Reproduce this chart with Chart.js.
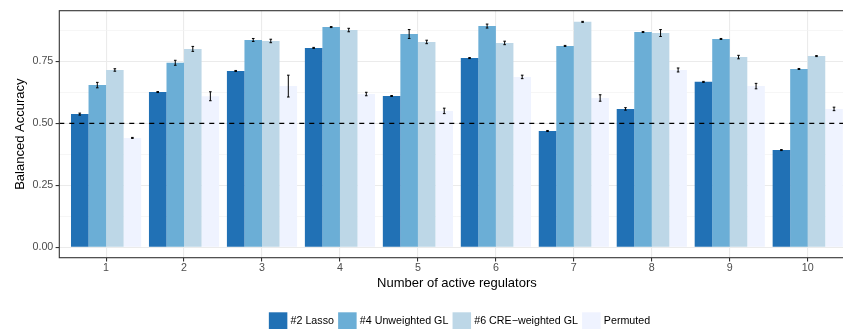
<!DOCTYPE html>
<html><head><meta charset="utf-8">
<script src="https://cdn.jsdelivr.net/npm/chart.js@4.4.1/dist/chart.umd.min.js"></script>
<style>html,body{margin:0;padding:0;overflow:hidden;background:#fff;width:843px;height:329px}canvas{display:block}</style>
</head><body>
<canvas id="c" width="870" height="329"></canvas>
<script>
const categories = [1, 2, 3, 4, 5, 6, 7, 8, 9, 10];
const seriesNames = ['#2 Lasso', '#4 Unweighted GL', '#6 CRE\u2212weighted GL', 'Permuted'];
const lasso        = [0.537, 0.626, 0.711, 0.804, 0.610, 0.763, 0.469, 0.558, 0.667, 0.392];
const lassoErr     = [0.004, 0.002, 0.002, 0.002, 0.002, 0.002, 0.002, 0.005, 0.002, 0.002];
const unweighted   = [0.654, 0.744, 0.836, 0.888, 0.860, 0.892, 0.812, 0.868, 0.840, 0.719];
const unweightedErr= [0.011, 0.010, 0.006, 0.002, 0.018, 0.008, 0.002, 0.002, 0.002, 0.002];
const creWeighted  = [0.715, 0.800, 0.832, 0.876, 0.828, 0.824, 0.909, 0.864, 0.767, 0.771];
const creErr       = [0.005, 0.010, 0.007, 0.007, 0.007, 0.007, 0.002, 0.014, 0.007, 0.002];
const permuted     = [0.441, 0.609, 0.650, 0.618, 0.550, 0.687, 0.602, 0.715, 0.650, 0.558];
const permutedErr  = [0.002, 0.018, 0.044, 0.007, 0.011, 0.007, 0.013, 0.008, 0.011, 0.007];
const yMajorTicks = [0, 0.25, 0.5, 0.75];
const yMinorTicks = [0.125, 0.375, 0.625, 0.875];
const referenceLine = 0.5;

const colors = ['#2171b5', '#6baed6', '#bdd7e7', '#eff3ff'];
const FAMILY = '"Liberation Sans", Arial, Helvetica, sans-serif';
const seriesValues = [lasso, unweighted, creWeighted, permuted];
const seriesErrors = [lassoErr, unweightedErr, creErr, permutedErr];

const datasets = seriesValues.map((vals, k) => ({
  label: seriesNames[k],
  data: vals.map((v, i) => ({x: categories[i], y: v})),
  backgroundColor: colors[k],
  borderWidth: 0,
  errors: seriesErrors[k],
  categoryPercentage: 0.9,
  barPercentage: 1.0
}));

const isMajor = v => yMajorTicks.some(t => Math.abs(t - v) < 1e-9);

const overlay = {
  id: 'overlay',
  afterDatasetsDraw(chart) {
    const ctx = chart.ctx, ca = chart.chartArea;
    const ys = chart.scales.y;
    ctx.save();
    // error bars
    ctx.strokeStyle = '#000';
    ctx.lineWidth = 1;
    chart.data.datasets.forEach((ds, k) => {
      const meta = chart.getDatasetMeta(k);
      meta.data.forEach((bar, i) => {
        const v = ds.data[i].y, e = ds.errors[i];
        const y1 = ys.getPixelForValue(v + e), y2 = ys.getPixelForValue(v - e);
        const x = bar.x, hw = 1.3;
        ctx.beginPath();
        ctx.moveTo(x, y1); ctx.lineTo(x, y2);
        ctx.moveTo(x - hw, y1); ctx.lineTo(x + hw, y1);
        ctx.moveTo(x - hw, y2); ctx.lineTo(x + hw, y2);
        ctx.stroke();
      });
    });
    // dashed reference line
    const yr = ys.getPixelForValue(referenceLine);
    ctx.beginPath();
    ctx.setLineDash([5, 5]);
    ctx.lineWidth = 1.3;
    ctx.moveTo(ca.left, yr); ctx.lineTo(ca.right, yr);
    ctx.stroke();
    ctx.setLineDash([]);
    // panel border
    ctx.strokeStyle = '#333333';
    ctx.lineWidth = 1.1;
    ctx.strokeRect(ca.left, ca.top, ca.right - ca.left, ca.bottom - ca.top);
    ctx.restore();
  },
  afterDraw(chart) {
    const ctx = chart.ctx;
    ctx.save();
    ctx.font = '10.7px ' + FAMILY;
    ctx.textBaseline = 'middle';
    ctx.textAlign = 'left';
    const boxW = 18.5, boxH = 17, gapText = 3.2, gapItem = 4.2;
    const widths = seriesNames.map(n => ctx.measureText(n).width);
    let total = widths.reduce((a, w) => a + boxW + gapText + w, 0) + gapItem * (seriesNames.length - 1);
    let x = 459.5 - total / 2;
    const top = 312.3, cy = 321;
    seriesNames.forEach((n, k) => {
      ctx.fillStyle = colors[k];
      ctx.fillRect(x, top, boxW, boxH);
      ctx.fillStyle = '#000';
      ctx.fillText(n, x + boxW + gapText, cy);
      x += boxW + gapText + widths[k] + gapItem;
    });
    ctx.restore();
  }
};

new Chart(document.getElementById('c'), {
  type: 'bar',
  data: {datasets},
  options: {
    responsive: false,
    animation: false,
    events: [],
    layout: {padding: {top: 10.7, right: 15.5, bottom: 0, left: 0}},
    plugins: {legend: {display: false}, tooltip: {enabled: false}},
    scales: {
      x: {
        type: 'linear', min: 0.4, max: 10.6, offset: false,
        afterBuildTicks: s => { s.ticks = categories.map(v => ({value: v})); },
        afterFit: s => { s.height = 71.3; },
        grid: {offset: false, color: '#ebebeb', lineWidth: 1.1, tickColor: '#333333', tickLength: 3.7},
        border: {display: false},
        ticks: {color: '#4d4d4d', font: {size: 10.7, family: FAMILY}, padding: 0.3, maxRotation: 0, autoSkip: false, callback: v => String(v)},
        title: {display: true, text: 'Number of active regulators', color: '#000', font: {size: 13, family: FAMILY}, padding: {top: 0, bottom: 38.2}}
      },
      y: {
        type: 'linear', min: -0.042, max: 0.954,
        afterBuildTicks: s => { s.ticks = yMajorTicks.concat(yMinorTicks).sort((a, b) => a - b).map(v => ({value: v})); },
        afterFit: s => { s.width = 59.3; },
        grid: {
          color: c => isMajor(c.tick.value) ? '#ebebeb' : '#f2f2f2',
          lineWidth: c => isMajor(c.tick.value) ? 1.1 : 0.7,
          tickColor: c => isMajor(c.tick.value) ? '#333333' : 'rgba(0,0,0,0)',
          tickLength: 3.7
        },
        border: {display: false},
        ticks: {color: '#4d4d4d', font: {size: 10.7, family: FAMILY}, padding: 2.3, autoSkip: false,
          callback: v => isMajor(v) ? v.toFixed(2) : ''},
        title: {display: true, text: 'Balanced Accuracy', color: '#000', font: {size: 13, family: FAMILY}, padding: {top: 12.2, bottom: 0}}
      }
    }
  },
  plugins: [overlay]
});
</script>
</body></html>
